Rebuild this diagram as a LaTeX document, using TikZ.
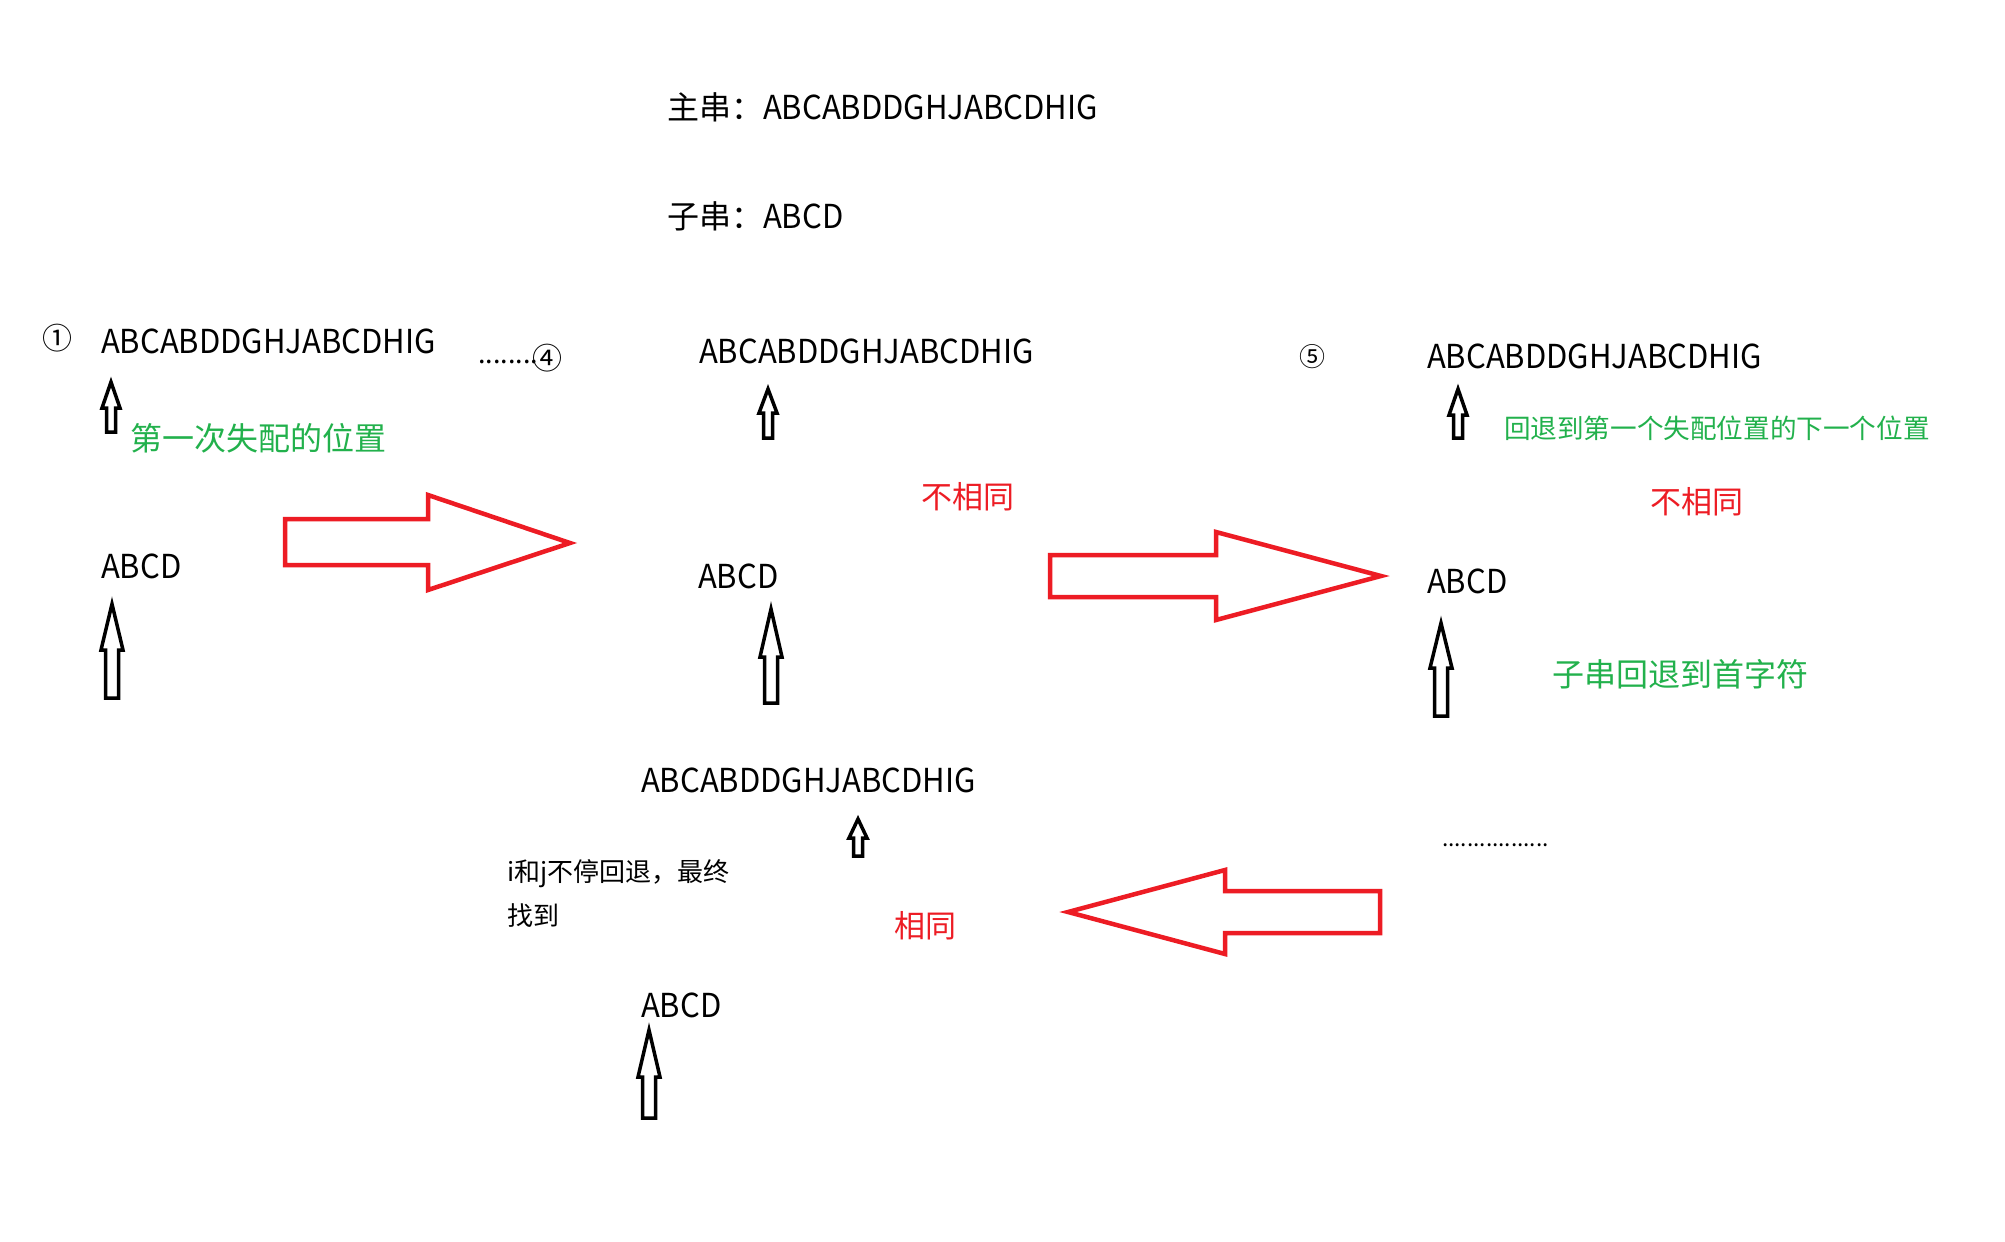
\documentclass[tikz,border=0pt]{standalone}
\usepackage{fontspec}
\setmainfont{Noto Sans CJK SC}
\newfontfamily\latf[FakeStretch=0.94]{Noto Sans CJK SC}
\definecolor{pred}{HTML}{ED1C24}
\definecolor{pgreen}{HTML}{22B14C}
\newcommand\fsz[1]{\fontsize{#1}{#1}\selectfont}
\newcommand\blkup[6]{%
  \draw[blkarrow] (#1,#2) -- (#1+#5,#3) -- (#1+#6,#3) -- (#1+#6,#4) -- (#1-#6,#4) -- (#1-#6,#3) -- (#1-#5,#3) -- cycle;}
\tikzset{
  txt/.style={inner sep=0pt, outer sep=0pt},
  latstr/.style={txt, anchor=base west, font=\latf\fsz{16.5}},
  circnum/.style={txt, anchor=center, font=\fsz{15}},
  greentxt/.style={txt, anchor=west, text=pgreen},
  redtxt/.style={txt, anchor=west, text=pred, font=\fsz{15.5}},
  blacktxt/.style={txt, anchor=west, font=\fsz{13}},
  blkarrow/.style={draw=black, line width=1.75pt, line join=miter},
  redarrow/.style={draw=pred, line width=2.25pt, line join=miter},
}
\begin{document}
\begin{tikzpicture}[x=0.5pt, y=-0.5pt]
\useasboundingbox[fill=white] (0,0) rectangle (2005,1241);

% header
\node[txt, anchor=base west] (main) at (667,120) {\fsz{16}主串：\latf\fsz{16.5}ABCABDDGHJABCDHIG};
\node[txt, anchor=base west] (sub) at (667,228) {\fsz{16}子串：\latf\fsz{16.5}ABCD};

% step 1
\node[circnum] (c1) at (57,338) {①};
\node[latstr] (s1) at (101,353) {ABCABDDGHJABCDHIG};
\node[txt, anchor=base west, font=\fsz{13.5}] (d4) at (478,363) {........};
\node[circnum] (c4) at (547,358) {④};
\node[greentxt, font=\fsz{16}] (g1) at (130,438) {第一次失配的位置};
\node[latstr] (p1) at (101,578) {ABCD};
\blkup{111}{382}{408}{432}{9}{4.5}
\blkup{112}{604}{650}{698}{11}{6.5}

% step 4
\node[latstr] (s2) at (699,363) {ABCABDDGHJABCDHIG};
\node[redtxt] (n1) at (921,497) {不相同};
\node[latstr] (p2) at (698,588) {ABCD};
\blkup{768}{389}{413}{438}{9}{4.5}
\blkup{771}{609}{657}{703}{11}{6.5}

% step 5
\node[circnum, font=\fsz{13}] (c5) at (1312,357) {⑤};
\node[latstr] (s3) at (1427,368) {ABCABDDGHJABCDHIG};
\node[greentxt, font=\fsz{13.3}] (g2) at (1504,428) {回退到第一个失配位置的下一个位置};
\node[redtxt] (n2) at (1650,502) {不相同};
\node[latstr] (p3) at (1427,593) {ABCD};
\node[greentxt, font=\fsz{16}] (g3) at (1552,674) {子串回退到首字符};
\blkup{1458}{389}{415}{438}{9}{4.5}
\blkup{1441}{623}{668}{716}{11}{6.5}

% final
\node[latstr] (s4) at (641,792) {ABCABDDGHJABCDHIG};
\node[blacktxt] (note1) at (507,874) {i和j不停回退，最终};
\node[blacktxt] (note2) at (507,916) {找到};
\node[redtxt] (n3) at (894,926) {相同};
\node[latstr] (p4) at (641,1017) {ABCD};
\node[txt, anchor=base west, font=\fsz{11.3}] (dr) at (1442,846) {.................};
\blkup{858}{819}{838}{856}{9}{4.5}
\blkup{649}{1030}{1077}{1118}{11}{6.5}

% red block arrows
\draw[redarrow] (285,519) -- (428,519) -- (428,495) -- (570,543) -- (428,590) -- (428,565) -- (285,565) -- cycle;
\draw[redarrow] (1050,555) -- (1216,555) -- (1216,532) -- (1381,576) -- (1216,620) -- (1216,597) -- (1050,597) -- cycle;
\draw[redarrow] (1068,912) -- (1225,870) -- (1225,891) -- (1380,891) -- (1380,933) -- (1225,933) -- (1225,954) -- cycle;
\end{tikzpicture}
\end{document}
